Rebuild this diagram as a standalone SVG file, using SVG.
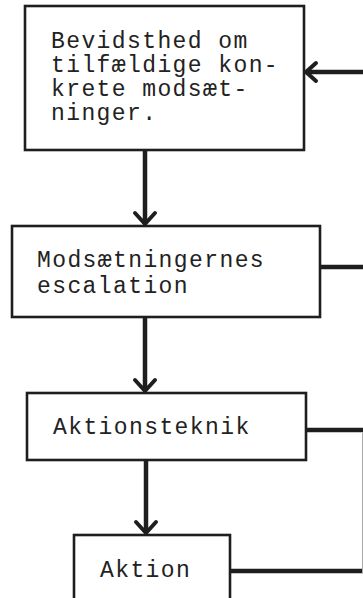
<svg xmlns="http://www.w3.org/2000/svg" width="363" height="598" viewBox="0 0 363 598">
<style>
.box{fill:#fff;stroke:#1e1e1e;stroke-width:2.6}
.t{font-family:"Liberation Mono","DejaVu Sans Mono",monospace;font-size:23px;letter-spacing:1.4px;fill:#222}
.c{fill:none;stroke:#1e1e1e;stroke-width:4.5}
.ah{fill:none;stroke:#1e1e1e;stroke-width:4;stroke-linecap:round;stroke-linejoin:round}
</style>
<rect width="363" height="598" fill="#fff"/>
<g id="connectors">
<line class="c" x1="145" y1="150" x2="145" y2="224"/>
<polyline class="ah" points="135,213 145,224 155,213"/>
<line class="c" x1="145" y1="317" x2="145" y2="391"/>
<polyline class="ah" points="135,380 145,391 155,380"/>
<line class="c" x1="146" y1="460" x2="146" y2="533"/>
<polyline class="ah" points="136,522 146,533 156,522"/>
<line class="c" x1="306" y1="72" x2="363" y2="72"/>
<polyline class="ah" points="316,63 306,72 316,81"/>
<line class="c" x1="320" y1="267" x2="363" y2="267"/>
<line class="c" x1="306" y1="430" x2="363" y2="430"/>
<line class="c" x1="230" y1="571" x2="363" y2="571"/>
<line x1="362.5" y1="433" x2="362.5" y2="573" stroke="#aaa" stroke-width="1"/>
</g>
<g id="n1">
<rect class="box" x="25" y="6" width="279" height="144"/>
<text class="t" x="51" y="48">Bevidsthed om</text>
<text class="t" x="51" y="72">tilfældige kon-</text>
<text class="t" x="51" y="96">krete modsæt-</text>
<text class="t" x="51" y="120">ninger.</text>
</g>
<g id="n2">
<rect class="box" x="12" y="226" width="308" height="91"/>
<text class="t" x="37" y="267">Modsætningernes</text>
<text class="t" x="37" y="293">escalation</text>
</g>
<g id="n3">
<rect class="box" x="27" y="393" width="279" height="67"/>
<text class="t" x="53" y="434">Aktionsteknik</text>
</g>
<g id="n4">
<rect class="box" x="74" y="535" width="156" height="70"/>
<text class="t" x="100" y="577">Aktion</text>
</g>
</svg>
